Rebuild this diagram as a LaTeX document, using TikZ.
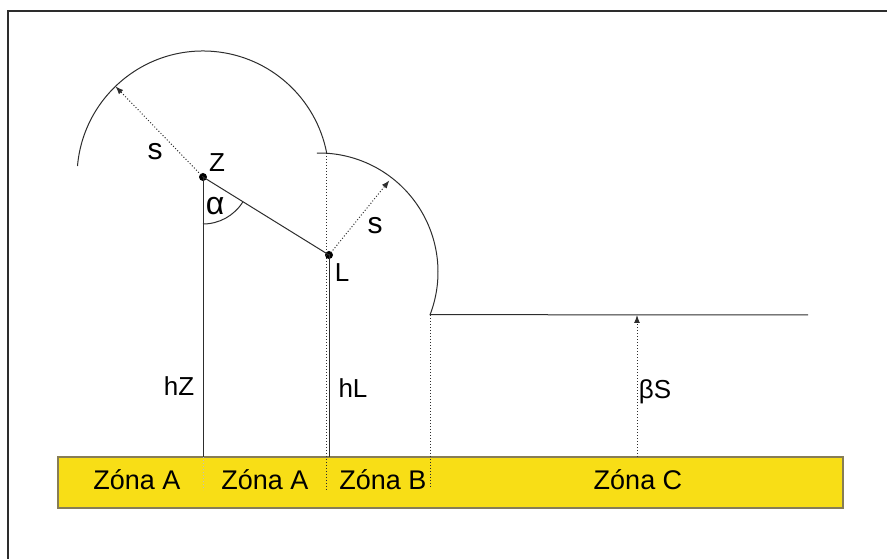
\documentclass[tikz,border=0pt]{standalone}
\usepackage{fontspec}
\setmainfont{Liberation Sans}
\usetikzlibrary{arrows.meta}
\definecolor{zonayellow}{RGB}{248,222,22}
\definecolor{zonaedge}{RGB}{135,125,85}
\definecolor{linegray}{RGB}{45,45,45}
\begin{document}
\begin{tikzpicture}[x=1pt, y=1pt, line width=1pt,
    every node/.style={font=\fontsize{26}{26}\selectfont, inner sep=0pt},
    line/.style={draw=linegray},
    dots/.style={draw=linegray, dash pattern=on 1pt off 2pt},
    arr/.style={dots, -{Latex[length=8pt,width=6pt]}},
    zona/.style={font=\fontsize{27}{27}\selectfont},
    dot/.style={circle, fill=black, inner sep=0pt, minimum size=8pt}]
  \useasboundingbox (0,0) rectangle (887,559);
  % frame
  \draw[line width=1.5pt, linegray] (887,548) -- (8,548) -- (8,0);
  % ground
  \draw[fill=zonayellow, draw=zonaedge, line width=1.5pt] (58,51) rectangle (843,102);
  \node[zona] (zA1) at (137,79) {Zóna A};
  \node[zona] (zA2) at (265,79) {Zóna A};
  \node[zona] (zB) at (383,79) {Zóna B};
  \node[zona] (zC) at (638,79) {Zóna C};
  % points
  \node[dot] (Z) at (203,382) {};
  \node[dot] (L) at (329,304) {};
  \coordinate (Zf) at (203,102);
  \coordinate (Lf) at (329,102);
  \coordinate (C2) at (319,287);
  \coordinate (top2) at (326,406);
  \coordinate (sh) at (430,244);
  \coordinate (shend) at (808,244);
  \coordinate (bsf) at (637,102);
  \coordinate (bst) at (637,244);
  % heights
  \draw[line] (Z.center) -- (Zf);
  \draw[line] (L.center) -- (Lf);
  \draw[line] (Z.center) -- (L.center);
  \draw[dots, draw=gray!50] (Zf) -- ++(0,-33);
  \draw[dots] (top2) -- (326,69);
  \draw[dots] (sh) -- (430,72);
  % angle
  \draw[line] (Z.center) ++(-90:47) arc[start angle=-90, end angle=-32, radius=47];
  % reach of Z
  \draw[line] (Z.center) ++(175:126) arc[start angle=175, end angle=11, radius=126];
  \draw[arr] (Z.center) -- ++(134:126);
  % reach of L and shelf
  \draw[line] (C2) ++(91:119) arc[start angle=91, end angle=-21, radius=119] -- (shend);
  \draw[arr] (L.center) -- ++(51:96);
  \draw[arr] (bsf) -- (bst);
  % labels
  \node[font=\fontsize{30}{30}\selectfont] (s1) at (155,407) {s};
  \node (zlab) at (217,396) {Z};
  \node[font=\fontsize{32}{32}\selectfont] (alab) at (215,353) {α};
  \node (llab) at (342,286) {L};
  \node[font=\fontsize{30}{30}\selectfont] (s2) at (375,333) {s};
  \node (hz) at (179,173) {hZ};
  \node (hl) at (353,171) {hL};
  \node (bs) at (655,167) {βS};
\end{tikzpicture}
\end{document}
